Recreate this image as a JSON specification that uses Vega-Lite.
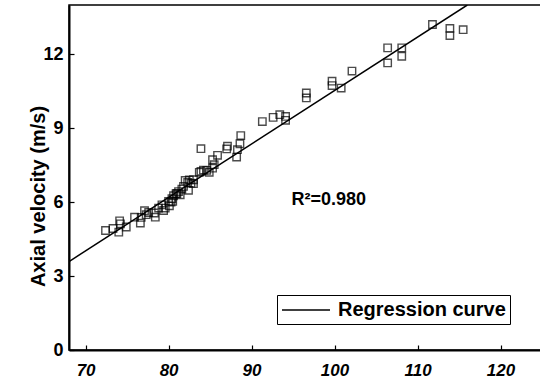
{
  "$schema": "https://vega.github.io/schema/vega-lite/v6.json",
  "width": 473,
  "height": 345,
  "autosize": {"type": "none"},
  "padding": {"left": 69, "top": 5, "right": 0, "bottom": 32},
  "background": "white",
  "config": {
    "font": "Liberation Sans",
    "view": {"stroke": "black", "strokeWidth": 1.5},
    "axis": {
      "grid": false,
      "domainColor": "black",
      "domainWidth": 2,
      "tickColor": "black",
      "tickWidth": 1.2,
      "labelColor": "black",
      "labelFontWeight": "bold",
      "titleColor": "black",
      "titleFontWeight": "bold"
    }
  },
  "datasets": {
    "obs": [
      {"x": 72.4, "y": 4.85}, {"x": 73.3, "y": 4.93}, {"x": 74.0, "y": 4.78}, {"x": 74.1, "y": 5.24},
      {"x": 74.2, "y": 5.12}, {"x": 74.9, "y": 4.99}, {"x": 75.9, "y": 5.39}, {"x": 76.6, "y": 5.15},
      {"x": 76.7, "y": 5.38}, {"x": 77.1, "y": 5.65}, {"x": 77.3, "y": 5.49}, {"x": 77.6, "y": 5.58},
      {"x": 78.3, "y": 5.56}, {"x": 78.4, "y": 5.39}, {"x": 78.8, "y": 5.76}, {"x": 79.2, "y": 5.89},
      {"x": 79.4, "y": 5.66}, {"x": 79.6, "y": 5.76}, {"x": 80.0, "y": 6.03}, {"x": 80.1, "y": 5.85},
      {"x": 80.3, "y": 6.0}, {"x": 80.4, "y": 6.14}, {"x": 80.5, "y": 6.03}, {"x": 80.6, "y": 6.26},
      {"x": 80.9, "y": 6.34}, {"x": 81.0, "y": 6.35}, {"x": 81.2, "y": 6.43}, {"x": 81.4, "y": 6.30},
      {"x": 81.6, "y": 6.53}, {"x": 81.8, "y": 6.64}, {"x": 82.0, "y": 6.88}, {"x": 82.3, "y": 6.80},
      {"x": 82.4, "y": 6.48}, {"x": 82.5, "y": 6.9}, {"x": 82.7, "y": 6.77}, {"x": 83.0, "y": 6.91},
      {"x": 83.0, "y": 6.75}, {"x": 83.7, "y": 7.21}, {"x": 83.9, "y": 7.25}, {"x": 83.9, "y": 8.17},
      {"x": 84.2, "y": 7.30}, {"x": 84.6, "y": 7.29}, {"x": 84.9, "y": 7.21}, {"x": 85.3, "y": 7.38},
      {"x": 85.3, "y": 7.72}, {"x": 85.5, "y": 7.52}, {"x": 85.9, "y": 7.90}, {"x": 87.0, "y": 8.16},
      {"x": 87.1, "y": 8.27}, {"x": 88.2, "y": 7.83}, {"x": 88.3, "y": 8.13}, {"x": 88.6, "y": 8.37},
      {"x": 88.7, "y": 8.70}, {"x": 91.3, "y": 9.27}, {"x": 92.6, "y": 9.44}, {"x": 93.4, "y": 9.55},
      {"x": 94.1, "y": 9.48}, {"x": 94.1, "y": 9.32}, {"x": 96.6, "y": 10.43}, {"x": 96.6, "y": 10.23},
      {"x": 99.7, "y": 10.91}, {"x": 99.7, "y": 10.73}, {"x": 100.8, "y": 10.63}, {"x": 102.1, "y": 11.32},
      {"x": 106.4, "y": 12.26}, {"x": 106.4, "y": 11.65}, {"x": 108.1, "y": 12.26}, {"x": 108.1, "y": 11.92},
      {"x": 111.8, "y": 13.21}, {"x": 113.9, "y": 13.05}, {"x": 113.9, "y": 12.76}, {"x": 115.5, "y": 13.0}
    ],
    "fit": [
      {"x": 68, "y": 3.59, "series": "Regression curve"},
      {"x": 116, "y": 14.0, "series": "Regression curve"}
    ],
    "note": [
      {"x": 99.3, "y": 5.88, "label": "R²=0.980"}
    ]
  },
  "layer": [
    {
      "data": {"name": "fit"},
      "mark": {"type": "line", "strokeWidth": 1.5, "clip": true},
      "encoding": {
        "x": {
          "field": "x", "type": "quantitative",
          "scale": {"domain": [68, 125], "nice": false, "zero": false},
          "axis": {
            "title": null,
            "values": [70, 80, 90, 100, 110, 120],
            "labelFontSize": 17,
            "labelFontStyle": "italic",
            "tickSize": -5,
            "labelPadding": 17,
            "labelFlush": false
          }
        },
        "y": {
          "field": "y", "type": "quantitative",
          "scale": {"domain": [0, 14], "nice": false},
          "axis": {
            "title": "Axial velocity (m/s)",
            "titleFontSize": 20,
            "titleX": -30.5,
            "titleY": 191,
            "titleBaseline": "middle",
            "titleAngle": -90,
            "values": [0, 3, 6, 9, 12],
            "labelFontSize": 18,
            "tickSize": -5,
            "labelPadding": 11,
            "labelFlush": false
          }
        },
        "color": {
          "field": "series", "type": "nominal",
          "scale": {"domain": ["Regression curve"], "range": ["black"]},
          "legend": {
            "title": null,
            "orient": "none",
            "legendX": 208,
            "legendY": 290,
            "strokeColor": "black",
            "fillColor": "white",
            "padding": 4,
            "symbolType": "M-2.4,0H2.4",
            "symbolSize": 400,
            "symbolOffset": 14,
            "symbolStrokeWidth": 1.5,
            "labelFontSize": 20,
            "labelFontWeight": "bold",
            "labelColor": "black",
            "labelOffset": 21,
            "labelLimit": 300
          }
        }
      }
    },
    {
      "data": {"name": "obs"},
      "mark": {"type": "point", "shape": "square", "filled": false, "color": "black", "size": 55, "strokeWidth": 1.4},
      "encoding": {
        "x": {"field": "x", "type": "quantitative"},
        "y": {"field": "y", "type": "quantitative"}
      }
    },
    {
      "data": {"name": "note"},
      "mark": {"type": "text", "fontSize": 18, "fontWeight": "bold", "align": "center", "baseline": "alphabetic", "color": "black"},
      "encoding": {
        "x": {"field": "x", "type": "quantitative"},
        "y": {"field": "y", "type": "quantitative"},
        "text": {"field": "label"}
      }
    }
  ]
}
